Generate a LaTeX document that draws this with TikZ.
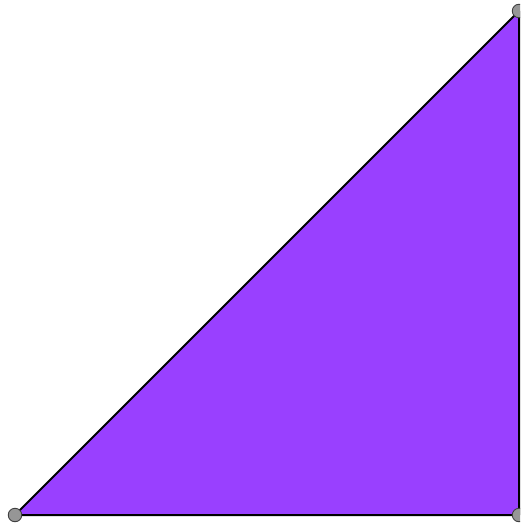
\documentclass[tikz,border=0pt]{standalone}
\definecolor{tri}{RGB}{153,64,255}
\definecolor{pt}{RGB}{150,150,150}
\tikzset{vertex/.style={circle,draw=black!75,fill=pt,line width=0.9pt,minimum size=13.5pt,inner sep=0pt}}
\begin{document}
\begin{tikzpicture}[x=1pt,y=-1pt]
\useasboundingbox (0,0) rectangle (520,529);
\clip (0,0) rectangle (520,529);
\coordinate (A) at (15,515);
\coordinate (B) at (519,11);
\coordinate (C) at (519,515);
\filldraw[fill=tri,draw=black,line width=2pt,line join=round] (A) -- (B) -- (C) -- cycle;
\node[vertex] (a) at (A) {};
\node[vertex] (b) at (B) {};
\node[vertex] (c) at (C) {};
\end{tikzpicture}
\end{document}
